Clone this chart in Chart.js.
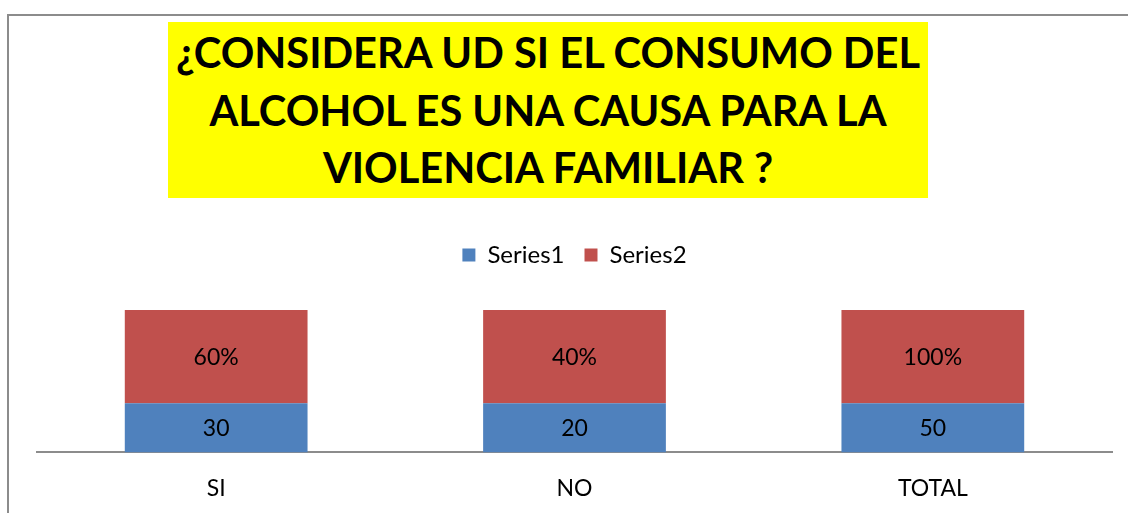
<!DOCTYPE html>
<html>
<head>
<meta charset="utf-8">
<script src="https://cdn.jsdelivr.net/npm/chart.js@4.4.1/dist/chart.umd.min.js"></script>
<style>
  html, body { margin: 0; padding: 0; background: #fff; }
  #wrap { position: relative; width: 1128px; height: 513px; overflow: hidden; }
  #frame { position: absolute; left: 7px; top: 14px; width: 1200px; height: 600px;
           border-left: 2px solid #8c8c8c; border-top: 2px solid #8c8c8c; }
  #titulo { position: absolute; left: 168px; top: 22px; width: 760px; height: 176px;
            background: #ffff00; color: #000; text-align: center;
            font-family: Lato, "Open Sans", sans-serif; font-weight: 700;
            font-size: 41.6px; line-height: 57.5px; padding-top: 2px; box-sizing: border-box; }
  #titulo div { white-space: nowrap; }
  canvas { position: absolute; left: 0; top: 0; }
</style>
</head>
<body>
<div id="wrap">
  <div id="frame"></div>
  <canvas id="grafico" width="1128" height="513"></canvas>
  <div id="titulo">
    <div>¿CONSIDERA UD SI EL CONSUMO DEL</div>
    <div>ALCOHOL ES UNA CAUSA PARA LA</div>
    <div>VIOLENCIA FAMILIAR ?</div>
  </div>
</div>
<script>
const categorias = ['SI', 'NO', 'TOTAL'];
// alturas de cada tramo (las barras del original ocupan lo mismo)
const serie1 = [34.5, 34.5, 34.5];
const serie2 = [65.5, 65.5, 65.5];
// lo que se ve escrito en cada tramo
const etiquetas1 = ['30', '20', '50'];
const etiquetas2 = ['60%', '40%', '100%'];

const fuente = 'Lato, "Open Sans", sans-serif';

const etiquetasPlugin = {
  id: 'etiquetas',
  afterDatasetsDraw(chart) {
    const ctx = chart.ctx;
    const textos = [etiquetas1, etiquetas2];
    ctx.save();
    ctx.font = '23px ' + fuente;
    ctx.fillStyle = '#000';
    ctx.textAlign = 'center';
    ctx.textBaseline = 'middle';
    chart.data.datasets.forEach((ds, i) => {
      chart.getDatasetMeta(i).data.forEach((bar, j) => {
        const p = bar.getProps(['x', 'y', 'base'], true);
        ctx.fillText(textos[i][j], p.x, (p.y + p.base) / 2 + 1);
      });
    });
    ctx.restore();
  }
};

const espacioLeyenda = {
  id: 'espacioLeyenda',
  beforeInit(chart) {
    const fitOriginal = chart.legend.fit;
    chart.legend.fit = function () {
      fitOriginal.call(this);
      this.height += 33;
    };
  }
};

const ctx = document.getElementById('grafico').getContext('2d');
new Chart(ctx, {
  type: 'bar',
  data: {
    labels: categorias,
    datasets: [
      { label: 'Series1', data: serie1, backgroundColor: '#4f81bd' },
      { label: 'Series2', data: serie2, backgroundColor: '#c0504d' }
    ]
  },
  options: {
    responsive: false,
    animation: false,
    layout: { padding: { top: 223, left: 37, right: 16, bottom: -11 } },
    categoryPercentage: 1,
    barPercentage: 0.51,
    plugins: {
      legend: {
        position: 'top',
        labels: { font: { family: fuente, size: 24 }, color: '#000', boxWidth: 13, boxHeight: 13, padding: 20 }
      },
      tooltip: { enabled: false }
    },
    scales: {
      x: {
        stacked: true,
        grid: { display: false, drawTicks: false },
        border: { color: '#8c8c8c', width: 2 },
        ticks: { color: '#000', font: { family: fuente, size: 23 }, padding: 22 }
      },
      y: {
        stacked: true,
        display: false,
        min: 0,
        max: 100
      }
    }
  },
  plugins: [etiquetasPlugin, espacioLeyenda]
});
</script>
</body>
</html>
